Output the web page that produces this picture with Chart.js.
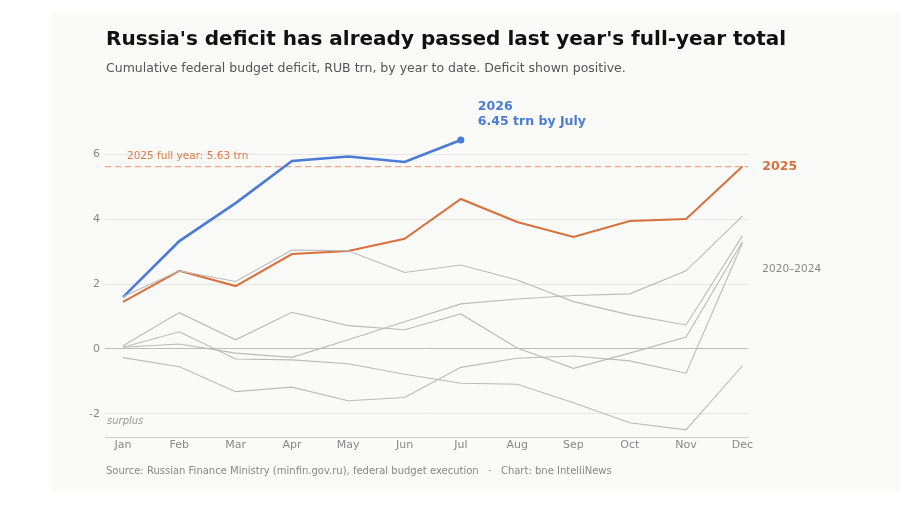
<!DOCTYPE html>
<html>
<head>
<meta charset="utf-8">
<script src="https://cdn.jsdelivr.net/npm/chart.js@4"></script>
<style>
  body { margin: 0; background: #fff; font-family: "DejaVu Sans", sans-serif; }
  #card { position: absolute; left: 52px; top: 13px; width: 848px; height: 478px; background: #fafaf8; }
  #title { position: absolute; left: 106px; top: 26px; font-size: 20px; font-weight: bold; color: #111; white-space: nowrap; }
  #subtitle { position: absolute; left: 106px; top: 60px; font-size: 12.5px; color: #555; white-space: nowrap; }
  #source { position: absolute; left: 106px; top: 465px; font-size: 10px; color: #888; white-space: pre; }
  #wrap { position: absolute; left: 0; top: 0; width: 900px; height: 510px; }
</style>
</head>
<body>
<div id="card"></div>
<div id="wrap"><canvas id="deficitChart"></canvas></div>
<div id="title">Russia's deficit has already passed last year's full-year total</div>
<div id="subtitle">Cumulative federal budget deficit, RUB trn, by year to date. Deficit shown positive.</div>
<div id="source">Source: Russian Finance Ministry (minfin.gov.ru), federal budget execution   ·   Chart: bne IntelliNews</div>
<script>
// months and y ticks
const months = ['Jan','Feb','Mar','Apr','May','Jun','Jul','Aug','Sep','Oct','Nov','Dec']
const yTicks = [-2, 0, 2, 4, 6]

// cumulative deficit, RUB trn
const deficit2026 = [1.6, 3.33, 4.5, 5.8, 5.94, 5.77, 6.45]
const deficit2025 = [1.45, 2.41, 1.94, 2.93, 3.02, 3.4, 4.63, 3.92, 3.46, 3.95, 4.01, 5.63]
const deficit2020 = [0.05, 0.15, -0.13, -0.26, 0.28, 0.84, 1.39, 1.54, 1.65, 1.7, 2.41, 4.1]
const deficit2021 = [0.05, 0.53, -0.31, -0.34, -0.46, -0.78, -1.06, -1.09, -1.66, -2.28, -2.5, -0.52]
const deficit2022 = [-0.27, -0.55, -1.32, -1.18, -1.6, -1.5, -0.57, -0.29, -0.22, -0.37, -0.75, 3.26]
const deficit2023 = [1.61, 2.41, 2.08, 3.05, 3.03, 2.36, 2.59, 2.13, 1.46, 1.05, 0.74, 3.49]
const deficit2024 = [0.1, 1.12, 0.28, 1.13, 0.72, 0.59, 1.08, 0.03, -0.6, -0.13, 0.37, 3.31]
const fullYear2025 = 5.63

const blue = '#4a7bd6'
const orange = '#d9703d'
const grey = '#bababa'

// turn a list of monthly values into x/y points (x = month index)
function toPoints(values) {
    return values.map((v, i) => ({x: i, y: v}))
}

function greyLine(label, values) {
    return {
        label: label,
        data: toPoints(values),
        borderColor: grey,
        borderWidth: 1.1,
        pointRadius: 0,
        tension: 0
    }
}

// reference line, labels, "surplus" note
const notes = {
    id: 'notes',
    beforeDatasetsDraw(chart) {
        const {ctx, chartArea, scales: {y}} = chart
        const yy = y.getPixelForValue(fullYear2025)
        ctx.save()
        ctx.strokeStyle = '#eea383'
        ctx.lineWidth = 1.2
        ctx.setLineDash([6, 4])
        ctx.beginPath()
        ctx.moveTo(chartArea.left, yy)
        ctx.lineTo(chartArea.right, yy)
        ctx.stroke()
        ctx.restore()
    },
    afterDatasetsDraw(chart) {
        const {ctx, chartArea, scales: {x, y}} = chart
        ctx.save()
        ctx.textBaseline = 'middle'
        ctx.textAlign = 'left'

        ctx.fillStyle = '#e07a4a'
        ctx.font = '10.5px "DejaVu Sans"'
        ctx.fillText('2025 full year: ' + fullYear2025.toFixed(2) + ' trn', chartArea.left + 22, y.getPixelForValue(fullYear2025) - 10)

        const dec = x.getPixelForValue(11)
        ctx.fillStyle = orange
        ctx.font = 'bold 12.5px "DejaVu Sans"'
        ctx.fillText('2025', dec + 20, y.getPixelForValue(deficit2025[11]))

        ctx.fillStyle = '#888'
        ctx.font = '10.5px "DejaVu Sans"'
        ctx.fillText('2020–2024', dec + 20, y.getPixelForValue(2.45))

        const last = deficit2026.length - 1
        const jx = x.getPixelForValue(last)
        const jy = y.getPixelForValue(deficit2026[last])
        ctx.fillStyle = blue
        ctx.font = 'bold 12.5px "DejaVu Sans"'
        ctx.fillText('2026', jx + 17, jy - 33)
        ctx.fillText(deficit2026[last].toFixed(2) + ' trn by ' + 'July', jx + 17, jy - 18)

        ctx.fillStyle = '#999'
        ctx.font = 'italic 10px "DejaVu Sans"'
        ctx.fillText('surplus', chartArea.left + 2, y.getPixelForValue(-2) + 8)
        ctx.restore()
    }
}

const chartEl = document.getElementById('deficitChart')
new Chart(chartEl, {
    type: 'line',
    data: {
        datasets: [
            greyLine('2020', deficit2020),
            greyLine('2021', deficit2021),
            greyLine('2022', deficit2022),
            greyLine('2023', deficit2023),
            greyLine('2024', deficit2024),
            {
                label: '2025',
                data: toPoints(deficit2025),
                borderColor: orange,
                borderWidth: 2,
                pointRadius: 0
            },
            {
                label: '2026',
                data: toPoints(deficit2026),
                borderColor: blue,
                backgroundColor: blue,
                borderWidth: 2.6,
                pointRadius: deficit2026.map((v, i) => i === deficit2026.length - 1 ? 3.5 : 0),
                pointBorderWidth: 0
            }
        ]
    },
    options: {
        responsive: true,
        maintainAspectRatio: false,
        animation: false,
        layout: {padding: {top: 106, right: 152, left: 0, bottom: 0}},
        plugins: {
            legend: {display: false},
            tooltip: {enabled: false}
        },
        scales: {
            x: {
                type: 'linear',
                min: -0.32,
                max: 11.1,
                afterBuildTicks: s => { s.ticks = months.map((m, i) => ({value: i})) },
                afterFit: s => { s.height = 73 },
                ticks: {
                    callback: v => months[v],
                    color: '#888',
                    font: {family: 'DejaVu Sans', size: 11},
                    padding: 2,
                    maxRotation: 0,
                    autoSkip: false
                },
                grid: {display: false, drawTicks: false},
                border: {display: true, color: '#cfcfcf', width: 1}
            },
            y: {
                min: -2.72,
                max: 7.5,
                afterBuildTicks: s => { s.ticks = yTicks.map(v => ({value: v})) },
                afterFit: s => { s.width = 105 },
                ticks: {
                    color: '#888',
                    font: {family: 'DejaVu Sans', size: 11},
                    padding: 5
                },
                grid: {
                    drawTicks: false,
                    color: c => c.tick && c.tick.value === 0 ? '#bdbdbd' : '#e6e6e4',
                    lineWidth: 1
                },
                border: {display: false}
            }
        }
    },
    plugins: [notes]
})
</script>
</body>
</html>
